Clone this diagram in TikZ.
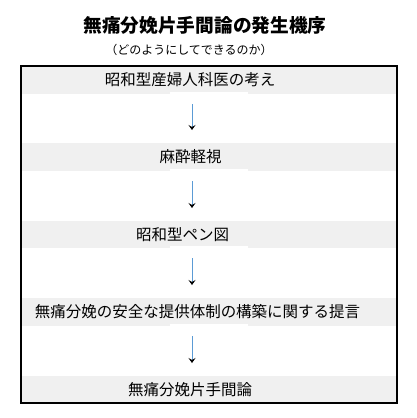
\documentclass[tikz,border=0pt]{standalone}
\usepackage{fontspec}
\newfontfamily\jpfont{Noto Sans CJK JP}
\usetikzlibrary{positioning,arrows.meta}
\definecolor{bandgray}{RGB}{240,240,240}
\definecolor{flowblue}{RGB}{91,155,213}
\tikzset{
  band/.style={fill=bandgray,minimum width=376pt,minimum height=28pt,inner sep=0pt,outer sep=0pt},
  bandtext/.style={font=\jpfont\fontsize{15.5}{18}\selectfont,inner sep=0pt},
  flow/.style={draw=flowblue,line width=0.7pt,-{Stealth[black,length=5pt,width=7pt,inset=2pt]},shorten <=10pt,shorten >=13pt},
  notch/.style={fill=white}
}
\begin{document}
\begin{tikzpicture}[x=1pt,y=-1pt]
\pgfmathsetmacro{\arrowx}{-17}
\pgfmathsetmacro{\notchw}{39}
\useasboundingbox (0,0) rectangle (417,418);
\node[font=\jpfont\bfseries\fontsize{18.7}{22}\selectfont,inner sep=0pt] (title) at (205,25) {無痛分娩片手間論の発生機序};
\node[font=\jpfont\fontsize{12}{14}\selectfont,inner sep=0pt] (subtitle) at (189,50) {（どのようにしてできるのか）};
\node[band] (b1) at (209,80) {};
\node[band] (b2) at (209,157) {};
\node[band,minimum height=27pt] (b3) at (209,234.5) {};
\node[band] (b4) at (209,312) {};
\node[band,minimum height=27pt] (b5) at (209,389.5) {};
\fill[notch] ([xshift=-\notchw pt]b1.south) rectangle ([xshift=\notchw pt,yshift=2pt]b1.south);
\fill[notch] ([xshift=-\notchw pt]b2.south) rectangle ([xshift=\notchw pt,yshift=2pt]b2.south);
\fill[notch] ([xshift=-\notchw pt]b3.south) rectangle ([xshift=\notchw pt,yshift=2pt]b3.south);
\fill[notch] ([xshift=-\notchw pt]b4.south) rectangle ([xshift=\notchw pt,yshift=2pt]b4.south);
\node[bandtext] (t1) at (190,80) {昭和型産婦人科医の考え};
\node[bandtext] (t2) at (190.5,157) {麻酔軽視};
\node[bandtext] (t3) at (182.5,234.5) {昭和型ペン図};
\node[bandtext] (t4) at (197.5,312) {無痛分娩の安全な提供体制の構築に関する提言};
\node[bandtext] (t5) at (190,389.5) {無痛分娩片手間論};
\draw[flow] ([xshift=\arrowx pt]b1.south) -- ([xshift=\arrowx pt]b2.north);
\draw[flow] ([xshift=\arrowx pt]b2.south) -- ([xshift=\arrowx pt]b3.north);
\draw[flow] ([xshift=\arrowx pt]b3.south) -- ([xshift=\arrowx pt]b4.north);
\draw[flow] ([xshift=\arrowx pt]b4.south) -- ([xshift=\arrowx pt]b5.north);
\draw[line width=1.5pt] (b1.north west) rectangle (b5.south east);
\end{tikzpicture}
\end{document}
